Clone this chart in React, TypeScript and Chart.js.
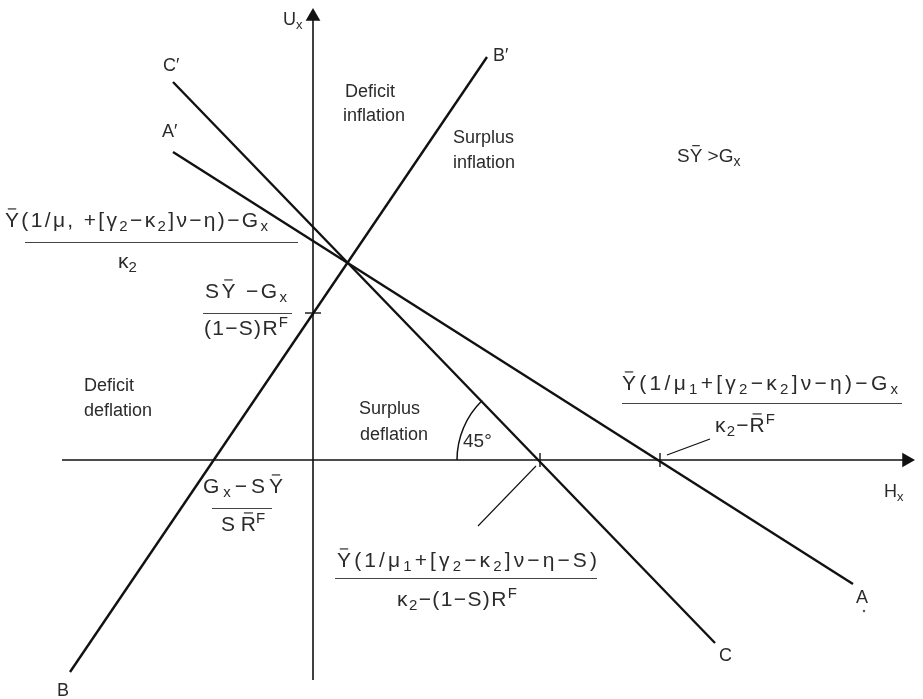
import { useEffect, useRef } from 'react';
import { Chart, registerables } from 'chart.js';

Chart.register(...registerables);

const CANVAS_W = 923;
const CANVAS_H = 699;

// Plot window in model units (H along x, U along y)
const H_RANGE = [-31.3, 61.0];
const U_RANGE = [-23.9, 46.0];

// Schedule endpoints: lines A–A′, B–B′, C–C′
const lineA_H = [-14.0, 54.0];
const lineA_U = [30.8, -12.4];
const lineB_H = [-24.3, 17.4];
const lineB_U = [-21.2, 40.3];
const lineC_H = [-14.0, 40.2];
const lineC_U = [37.8, -18.3];

// Axis extents (tip of the arrow at the second value)
const axisH = [-25.1, 60.2];
const axisU = [-22.0, 45.2];

// Intercepts marked with ticks
const interceptsH = [22.7, 34.7];
const interceptsU = [14.7];

// Leader lines from intercepts to their labels
const leader1_H = [35.4, 39.7];
const leader1_U = [0.5, 2.1];
const leader2_H = [22.3, 16.5];
const leader2_U = [-0.6, -6.6];

const ARROW_R = 8.5;
const FAMILY = "'Liberation Sans', Arial, sans-serif";
const INK = '#111';
const TEXT = '#2b2b2b';

type Mode = 'sub' | 'sup' | 'bar' | undefined;
type Run = { t: string; m?: Mode };
const r = (t: string, m?: Mode): Run => ({ t, m });

type Label = { runs: Run[]; x: number; y: number; w?: number; size?: number };

const FS = 21; // formula size

const labels: Label[] = [
  { runs: [r('U'), r('x', 'sub')], x: 283, y: 25 },
  { runs: [r('H'), r('x', 'sub')], x: 884, y: 497 },
  { runs: [r('Deficit')], x: 345, y: 97 },
  { runs: [r('inflation')], x: 343, y: 121 },
  { runs: [r('Surplus')], x: 453, y: 143 },
  { runs: [r('inflation')], x: 453, y: 168 },
  { runs: [r('S'), r('Y', 'bar'), r(' >G'), r('x', 'sub')], x: 677, y: 162, size: 19 },
  { runs: [r('Deficit')], x: 84, y: 391 },
  { runs: [r('deflation')], x: 84, y: 416 },
  { runs: [r('Surplus')], x: 359, y: 414 },
  { runs: [r('deflation')], x: 360, y: 440 },
  { runs: [r('45°')], x: 463, y: 447, size: 19 },
  { runs: [r('C′')], x: 163, y: 71 },
  { runs: [r('A′')], x: 162, y: 137 },
  { runs: [r('B′')], x: 493, y: 61 },
  { runs: [r('A')], x: 856, y: 603 },
  { runs: [r('C')], x: 719, y: 661 },
  { runs: [r('B')], x: 57, y: 696 },
  // U-intercept of A–A′
  {
    runs: [r('Y', 'bar'), r('(1/μ, +[γ'), r('2', 'sub'), r('−κ'), r('2', 'sub'), r(']ν−η)−G'), r('x', 'sub')],
    x: 5, y: 227, w: 263, size: FS,
  },
  { runs: [r('κ'), r('2', 'sub')], x: 118, y: 268, size: FS },
  // U-intercept of B–B′
  { runs: [r('S'), r('Y', 'bar'), r(' −G'), r('x', 'sub')], x: 205, y: 298, w: 82, size: FS },
  { runs: [r('(1−S)R'), r('F', 'sup')], x: 204, y: 335, w: 84, size: FS },
  // H-intercept of A–A′
  {
    runs: [r('Y', 'bar'), r('(1/μ'), r('1', 'sub'), r('+[γ'), r('2', 'sub'), r('−κ'), r('2', 'sub'), r(']ν−η)−G'), r('x', 'sub')],
    x: 622, y: 390, w: 276, size: FS,
  },
  { runs: [r('κ'), r('2', 'sub'), r('−'), r('R', 'bar'), r('F', 'sup')], x: 715, y: 432, w: 60, size: FS },
  // H-intercept of C–C′
  {
    runs: [r('Y', 'bar'), r('(1/μ'), r('1', 'sub'), r('+[γ'), r('2', 'sub'), r('−κ'), r('2', 'sub'), r(']ν−η−S)')],
    x: 337, y: 567, w: 260, size: FS,
  },
  { runs: [r('κ'), r('2', 'sub'), r('−(1−S)R'), r('F', 'sup')], x: 397, y: 606, w: 120, size: FS },
  // H-intercept of B–B′
  { runs: [r('G'), r('x', 'sub'), r('−S'), r('Y', 'bar')], x: 203, y: 493, w: 80, size: FS },
  { runs: [r('S '), r('R', 'bar'), r('F', 'sup')], x: 221, y: 531, size: FS },
];

// Fraction bars: [x1, x2, y]
const fractionBars: [number, number, number][] = [
  [25, 298, 242],
  [203, 292, 313],
  [622, 902, 403],
  [335, 597, 578],
  [212, 272, 508],
];

function drawRich(ctx: CanvasRenderingContext2D, lab: Label) {
  const size = lab.size ?? 18;
  const base = `${size}px ${FAMILY}`;
  const small = `${Math.round(size * 0.72)}px ${FAMILY}`;
  const chars: { ch: string; m: Mode; w: number }[] = [];
  for (const run of lab.runs) {
    for (const ch of Array.from(run.t)) {
      ctx.font = run.m === 'sub' || run.m === 'sup' ? small : base;
      chars.push({ ch, m: run.m, w: ctx.measureText(ch).width });
    }
  }
  const natural = chars.reduce((s, c) => s + c.w, 0);
  const extra = lab.w && chars.length > 1 ? (lab.w - natural) / (chars.length - 1) : 0;
  let cx = lab.x;
  ctx.fillStyle = TEXT;
  ctx.strokeStyle = TEXT;
  ctx.textBaseline = 'alphabetic';
  ctx.textAlign = 'left';
  for (const c of chars) {
    const isSmall = c.m === 'sub' || c.m === 'sup';
    ctx.font = isSmall ? small : base;
    const dy = c.m === 'sub' ? size * 0.2 : c.m === 'sup' ? -size * 0.4 : 0;
    ctx.fillText(c.ch, cx, lab.y + dy);
    if (c.m === 'bar') {
      const by = lab.y - size * 0.86;
      ctx.lineWidth = 1.2;
      ctx.beginPath();
      ctx.moveTo(cx + c.w * 0.2, by);
      ctx.lineTo(cx + c.w * 0.8, by);
      ctx.stroke();
    }
    cx += c.w + extra;
  }
}

const pts = (hs: number[], us: number[]) => hs.map((h, i) => ({ x: h, y: us[i] }));

const annotations = {
  id: 'diagramAnnotations',
  afterDatasetsDraw(chart: Chart) {
    const { ctx } = chart;
    const xs = chart.scales.x;
    const ys = chart.scales.y;
    ctx.save();

    // 45° arc between C–C′ and the H axis
    const cx = xs.getPixelForValue(interceptsH[0]);
    const cy = ys.getPixelForValue(0);
    const px = xs.getPixelForValue(lineC_H[0]);
    const py = ys.getPixelForValue(lineC_U[0]);
    const ang = Math.atan2(py - cy, px - cx) + Math.PI * 2;
    ctx.strokeStyle = INK;
    ctx.lineWidth = 1.5;
    ctx.beginPath();
    ctx.arc(cx, cy, 83, Math.PI, ang, false);
    ctx.stroke();

    // fraction bars
    ctx.strokeStyle = '#444';
    ctx.lineWidth = 1.1;
    for (const [x1, x2, y] of fractionBars) {
      ctx.beginPath();
      ctx.moveTo(x1, y + 0.5);
      ctx.lineTo(x2, y + 0.5);
      ctx.stroke();
    }

    for (const lab of labels) drawRich(ctx, lab);

    // stray mark under the A label
    ctx.fillStyle = '#555';
    ctx.beginPath();
    ctx.arc(864, 611, 1.2, 0, Math.PI * 2);
    ctx.fill();

    ctx.restore();
  },
};

export default function App() {
  const ref = useRef<HTMLCanvasElement | null>(null);

  useEffect(() => {
    if (!ref.current) return;
    const lineStyle = (data: { x: number; y: number }[], width: number) => ({
      data,
      showLine: true,
      borderColor: INK,
      borderWidth: width,
      pointRadius: 0,
      fill: false,
    });
    const arrowBack = ARROW_R / 10;
    const chart = new Chart(ref.current, {
      type: 'scatter',
      data: {
        datasets: [
          lineStyle(pts([axisH[0], axisH[1] - arrowBack], [0, 0]), 1.6),
          lineStyle(pts([0, 0], [axisU[0], axisU[1] - arrowBack]), 1.6),
          {
            data: [
              { x: 0, y: axisU[1] - arrowBack },
              { x: axisH[1] - arrowBack, y: 0 },
            ],
            showLine: false,
            pointStyle: 'triangle',
            pointRadius: ARROW_R,
            rotation: [0, 90],
            backgroundColor: INK,
            borderColor: INK,
            borderWidth: 0,
          },
          lineStyle(pts(lineA_H, lineA_U), 2.4),
          lineStyle(pts(lineB_H, lineB_U), 2.4),
          lineStyle(pts(lineC_H, lineC_U), 2.4),
          {
            data: interceptsH.map((h) => ({ x: h, y: 0 })),
            showLine: false,
            pointStyle: 'line',
            pointRadius: 7,
            rotation: 90,
            borderColor: INK,
            borderWidth: 1.4,
          },
          {
            data: interceptsU.map((u) => ({ x: 0, y: u })),
            showLine: false,
            pointStyle: 'line',
            pointRadius: 8,
            rotation: 0,
            borderColor: INK,
            borderWidth: 1.4,
          },
          lineStyle(pts(leader1_H, leader1_U), 1.1),
          lineStyle(pts(leader2_H, leader2_U), 1.1),
        ] as any,
      },
      options: {
        animation: false,
        responsive: false,
        maintainAspectRatio: false,
        events: [],
        layout: { padding: 0, autoPadding: false },
        plugins: { legend: { display: false }, tooltip: { enabled: false } },
        scales: {
          x: { type: 'linear', display: false, min: H_RANGE[0], max: H_RANGE[1] },
          y: { type: 'linear', display: false, min: U_RANGE[0], max: U_RANGE[1] },
        },
      },
      plugins: [annotations],
    });
    return () => chart.destroy();
  }, []);

  return (
    <div style={{ position: 'fixed', left: 0, top: 0, width: CANVAS_W, height: CANVAS_H, background: '#fff' }}>
      <canvas ref={ref} width={CANVAS_W} height={CANVAS_H} style={{ display: 'block' }} />
    </div>
  );
}
